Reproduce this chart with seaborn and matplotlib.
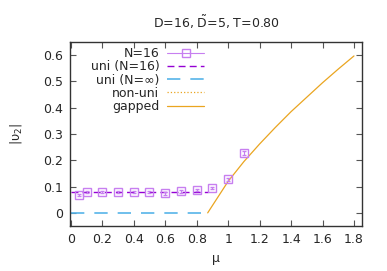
import numpy as np
import pandas as pd
import seaborn as sns
import matplotlib
matplotlib.use("Agg")
import matplotlib.pyplot as plt
from matplotlib.lines import Line2D

# data
mu_n16 = [0.05, 0.1, 0.2, 0.3, 0.4, 0.5, 0.6, 0.7, 0.8, 0.9, 1.0, 1.1]
v2_n16 = [0.067, 0.080, 0.079, 0.080, 0.080, 0.079, 0.074, 0.082, 0.086, 0.094, 0.127, 0.228]
err_n16 = [0.003, 0.004, 0.004, 0.003, 0.003, 0.004, 0.005, 0.005, 0.004, 0.004, 0.005, 0.006]

mu_uni = [0.0, 0.87]
v2_uni16 = [0.080, 0.080]
v2_uniinf = [0.0, 0.0]

mu_gap = [0.87, 1.0, 1.1, 1.2, 1.3, 1.4, 1.5, 1.6, 1.7, 1.8]
v2_gap = [0.0, 0.12, 0.195, 0.262, 0.325, 0.385, 0.44, 0.495, 0.547, 0.597]

purple = "#c77ff0"
dark_purple = "#9400d3"
blue = "#56b4e9"
orange = "#eaa520"

sns.set_style("ticks")
plt.rcParams['font.family'] = ['DejaVu Sans']
plt.rcParams['mathtext.fontset'] = 'dejavusans'

fig = plt.figure(figsize=(3.87, 2.71), dpi=100)
ax = fig.add_axes([0.181, 0.166, 0.754, 0.679])

df_uni = pd.DataFrame({'mu': mu_uni, 'u16': v2_uni16, 'uinf': v2_uniinf})
df_gap = pd.DataFrame({'mu': mu_gap, 'v2': v2_gap})

sns.lineplot(x='mu', y='u16', data=df_uni, ax=ax, color=dark_purple, lw=1.0,
             linestyle=(0, (5, 3)))
sns.lineplot(x='mu', y='uinf', data=df_uni, ax=ax, color=blue, lw=1.2,
             linestyle=(0, (8, 6)))
sns.lineplot(x='mu', y='v2', data=df_gap, ax=ax, color=orange, lw=0.9)
ax.errorbar(mu_n16, v2_n16, yerr=err_n16, fmt='s', mfc='none', mec=purple,
            ms=6, mew=1.0, ecolor=purple, elinewidth=0.8, capsize=1.5)

ax.set_xlim(-0.005, 1.85)
ax.set_ylim(-0.05, 0.65)
ax.set_xticks(np.arange(0, 1.81, 0.2))
ax.set_xticklabels(['0', '0.2', '0.4', '0.6', '0.8', '1', '1.2', '1.4', '1.6', '1.8'])
ax.set_yticks([0, 0.1, 0.2, 0.3, 0.4, 0.5, 0.6])
ax.set_yticklabels(['0', '0.1', '0.2', '0.3', '0.4', '0.5', '0.6'])
ax.tick_params(direction='in', length=4, width=0.8, labelsize=9, color='#555555',
               top=True, right=True, pad=5)
for s in ax.spines.values():
    s.set_linewidth(1.0)
    s.set_color('#333333')

ax.set_xlabel('μ', fontsize=9, labelpad=4)
ax.set_ylabel(r'$|\mathrm{\upsilon}_2|$', fontsize=9, labelpad=14)
ax.set_title(r'D=16, $\tilde{\mathrm{D}}$=5, T=0.80', fontsize=9, pad=10)

handles = [
    Line2D([], [], color=purple, lw=0.8, marker='s', mfc='none', mec=purple, ms=6),
    Line2D([], [], color=dark_purple, lw=1.0, linestyle=(0, (5, 3))),
    Line2D([], [], color=blue, lw=1.2, linestyle=(0, (8, 6))),
    Line2D([], [], color=orange, lw=0.9, linestyle=':'),
    Line2D([], [], color=orange, lw=0.9),
]
labels = ['N=16', 'uni (N=16)', 'uni (N=∞)', 'non-uni', 'gapped']
ax.legend(handles, labels, loc='upper right', bbox_to_anchor=(0.49, 1.02),
          frameon=False, markerfirst=False, fontsize=9, handlelength=3.0,
          handletextpad=0.6, labelspacing=0.02, borderpad=0.2)

fig.savefig('out.png', dpi=100)
